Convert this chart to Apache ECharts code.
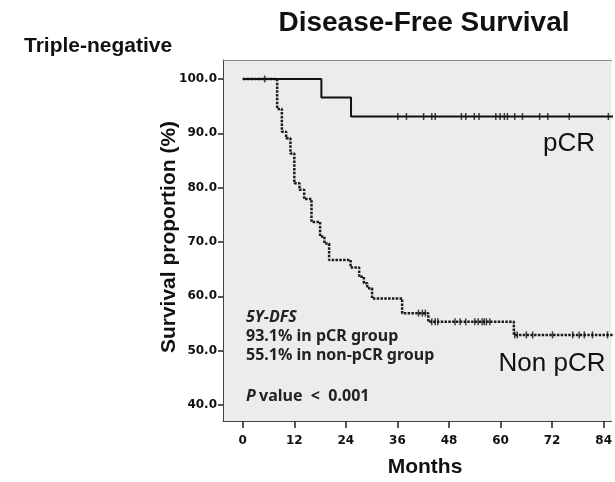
<!DOCTYPE html>
<html>
<head>
<meta charset="utf-8">
<script src="https://cdn.jsdelivr.net/npm/echarts@6/dist/echarts.min.js"></script>
<style>
html, body { margin: 0; padding: 0; background: #fff; }
#myChart { width: 615px; height: 482px; }
</style>
</head>
<body>
<div id="myChart"></div>
<script>
// pCR group: event times (months) and survival after each event (%)
var pcrTimes = [0, 18.3, 25.2, 93];
var pcrSurv = [100, 96.6, 93.1, 93.1];
var pcrCensor = [5.1, 36.1, 38.1, 42.1, 44.0, 44.8, 50.9, 51.9, 53.9, 55.0, 58.9, 59.9, 60.9, 61.6, 63.3, 65.1, 69.1, 71.0, 76.0, 85.1];

// non-pCR group
var nonTimes = [0, 8.0, 9.1, 10.1, 11.1, 12.0, 13.2, 14.3, 16.0, 18.0, 19.0, 20.1, 25.1, 27.1, 28.2, 29.0, 30.1, 37.1, 43.2, 63.1, 93];
var nonSurv = [100, 94.5, 90.3, 89.1, 86.3, 80.8, 79.6, 77.9, 73.7, 71.0, 69.7, 66.7, 65.3, 63.6, 62.4, 61.5, 59.6, 56.9, 55.3, 52.9, 52.9];
var nonCensor = [40.9, 41.8, 42.5, 44.0, 44.8, 45.4, 49.4, 50.6, 51.9, 54.0, 54.8, 55.7, 56.2, 56.7, 57.5, 63.3, 63.9, 66.0, 67.5, 72.1, 76.8, 78.3, 79.5, 81.4, 84.9];

var monthTicks = [0, 12, 24, 36, 48, 60, 72, 84];
var survTicks = [40, 50, 60, 70, 80, 90, 100];

function pairs(xs, ys) {
  return xs.map(function (x, i) { return [x, ys[i]]; });
}
// survival value at time t (step function)
function survAt(xs, ys, t) {
  var v = ys[0];
  for (var i = 0; i < xs.length; i++) {
    if (xs[i] <= t) v = ys[i];
  }
  return v;
}
function censorPts(cs, xs, ys) {
  return cs.map(function (t) { return [t, survAt(xs, ys, t)]; });
}

var myChart = echarts.init(document.getElementById('myChart'));

var boldFont = 'Liberation Sans, Arial, sans-serif';
var noteFont = 'Noto Sans, sans-serif';
var xMin = -4.6, xMax = 85.85;

myChart.setOption({
  animation: false,
  grid: {
    left: 223,
    top: 60,
    right: 0,
    height: 361,
    show: true,
    backgroundColor: '#ececec',
    borderWidth: 0
  },
  xAxis: [{
    type: 'value',
    min: xMin,
    max: xMax,
    splitLine: { show: false },
    axisLine: { onZero: false, lineStyle: { color: '#444', width: 1 } },
    axisTick: { show: true, length: 7, customValues: monthTicks, lineStyle: { color: '#222', width: 1.5 } },
    axisLabel: {
      customValues: monthTicks,
      margin: 14,
      color: '#111',
      fontFamily: 'DejaVu Sans',
      fontWeight: 'bold',
      fontSize: 12
    }
  }, {
    // top frame line of the plot box
    type: 'value',
    position: 'top',
    min: xMin,
    max: xMax,
    splitLine: { show: false },
    axisLine: { onZero: false, lineStyle: { color: '#8a8a8a', width: 1 } },
    axisTick: { show: false },
    axisLabel: { show: false }
  }],
  yAxis: {
    type: 'value',
    min: 37.05,
    max: 103.5,
    splitLine: { show: false },
    axisLine: { show: true, onZero: false, lineStyle: { color: '#444', width: 1 } },
    axisTick: { show: true, length: 5, customValues: survTicks, lineStyle: { color: '#222', width: 1.5 } },
    axisLabel: {
      customValues: survTicks,
      margin: 6,
      color: '#111',
      fontFamily: 'DejaVu Sans',
      fontWeight: 'bold',
      fontSize: 12,
      formatter: function (v) { return v.toFixed(1); }
    }
  },
  graphic: [
    { type: 'text', style: { x: 424, y: 23, text: 'Disease-Free Survival', font: 'bold 28px ' + boldFont, fill: '#111', align: 'center', verticalAlign: 'middle' } },
    { type: 'text', style: { x: 24, y: 46, text: 'Triple-negative', font: 'bold 21px ' + boldFont, fill: '#111', align: 'left', verticalAlign: 'middle' } },
    { type: 'text', x: 169, y: 237, rotation: Math.PI / 2, style: { x: 0, y: 0, text: 'Survival proportion (%)', font: 'bold 21px ' + boldFont, fill: '#111', align: 'center', verticalAlign: 'middle' } },
    { type: 'text', style: { x: 425, y: 467, text: 'Months', font: 'bold 21px ' + boldFont, fill: '#111', align: 'center', verticalAlign: 'middle' } },
    { type: 'text', style: { x: 569, y: 144, text: 'pCR', font: '26px ' + boldFont, fill: '#111', align: 'center', verticalAlign: 'middle' } },
    { type: 'text', style: { x: 552, y: 364, text: 'Non pCR', font: '26px ' + boldFont, fill: '#111', align: 'center', verticalAlign: 'middle' } },
    { type: 'text', style: { x: 246, y: 317, text: '5Y-DFS', font: 'italic bold 16px ' + noteFont, fill: '#222', verticalAlign: 'middle' } },
    { type: 'text', style: { x: 246, y: 336, text: '93.1% in pCR group', font: 'bold 16px ' + noteFont, fill: '#222', verticalAlign: 'middle' } },
    { type: 'text', style: { x: 246, y: 355, text: '55.1% in non-pCR group', font: 'bold 16px ' + noteFont, fill: '#222', verticalAlign: 'middle' } },
    {
      type: 'text',
      style: {
        x: 246, y: 396, verticalAlign: 'middle',
        text: '{p|P} {v|value  <  0.001}',
        rich: {
          p: { font: 'italic bold 16px ' + noteFont, fill: '#222' },
          v: { font: 'bold 16px ' + noteFont, fill: '#222' }
        }
      }
    }
  ],
  series: [
    {
      name: 'pCR',
      type: 'line',
      step: 'end',
      symbol: 'none',
      data: pairs(pcrTimes, pcrSurv),
      lineStyle: { color: '#111', width: 2 },
      z: 3
    },
    {
      name: 'Non pCR',
      type: 'line',
      step: 'end',
      symbol: 'none',
      data: pairs(nonTimes, nonSurv),
      lineStyle: { color: '#1a1a1a', width: 2.5, type: [2.5, 1.3] },
      z: 2
    },
    {
      name: 'pCR censored',
      type: 'scatter',
      symbol: 'rect',
      symbolSize: [1.5, 7],
      itemStyle: { color: '#111' },
      data: censorPts(pcrCensor, pcrTimes, pcrSurv),
      z: 4
    },
    {
      name: 'Non pCR censored',
      type: 'scatter',
      symbol: 'rect',
      symbolSize: [1.5, 7],
      itemStyle: { color: '#111' },
      data: censorPts(nonCensor, nonTimes, nonSurv),
      z: 4
    }
  ]
});
</script>
</body>
</html>
